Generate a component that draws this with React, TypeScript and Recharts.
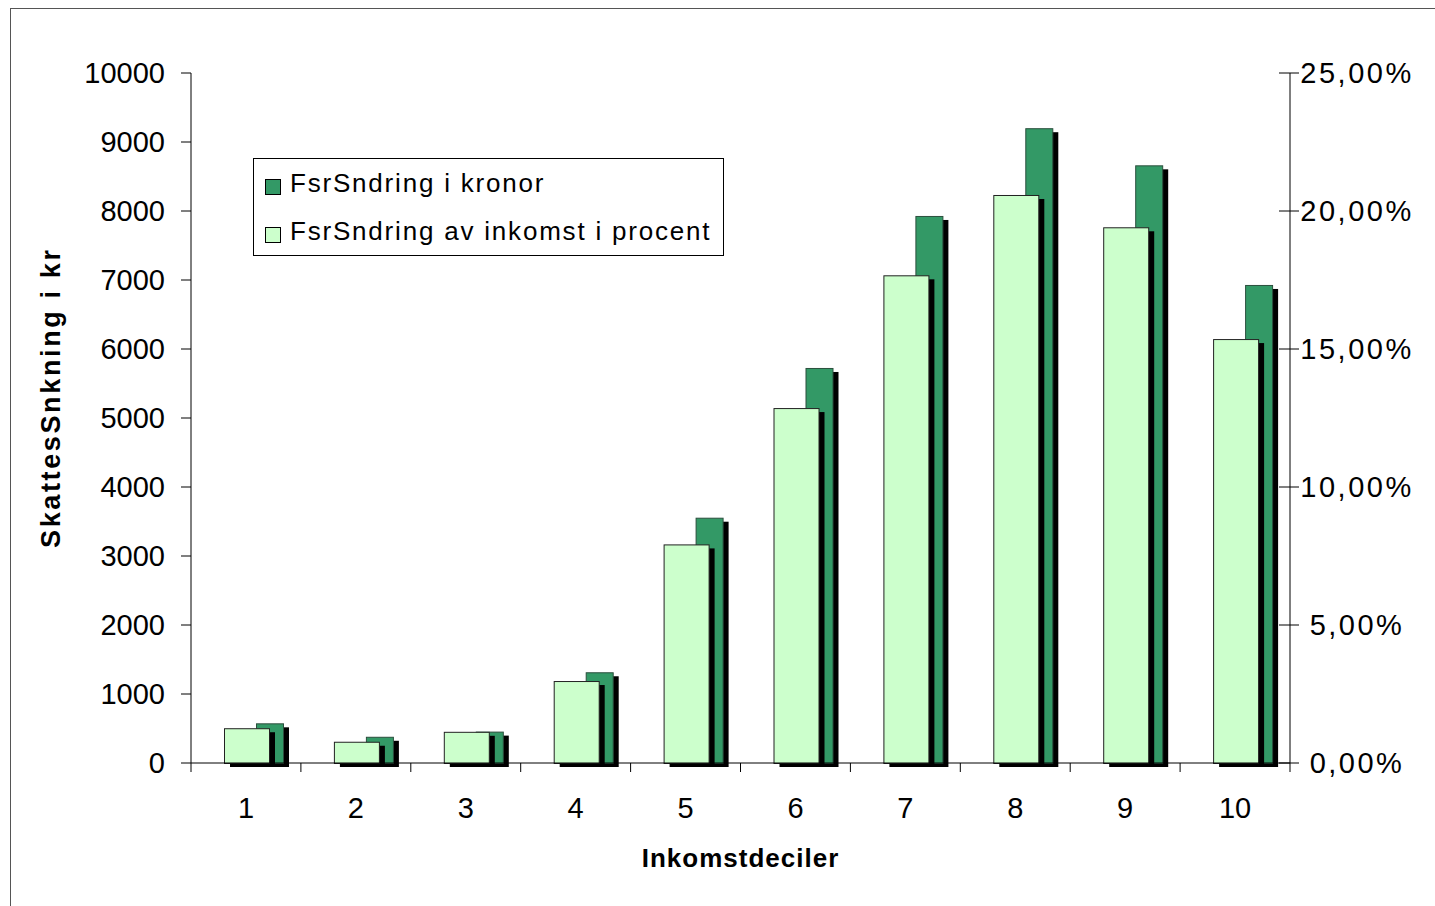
import { Bar, BarChart, Label, Legend, XAxis, YAxis } from "recharts";

const deciles = ["1", "2", "3", "4", "5", "6", "7", "8", "9", "10"];
const kronor = [575, 380, 455, 1315, 3555, 5725, 7928, 9200, 8662, 6928];
const procent = [1.26, 0.77, 1.13, 2.97, 7.92, 12.86, 17.67, 20.58, 19.41, 15.36];
const kronorTicks = [0, 1000, 2000, 3000, 4000, 5000, 6000, 7000, 8000, 9000, 10000];
const procentTicks = [0, 5, 10, 15, 20, 25];
const seriesNames = ["FsrSndring i kronor", "FsrSndring av inkomst i procent"];
const seriesColors = ["#339966", "#CCFFCC"];

const data = deciles.map((d, i) => ({ decil: d, kronor: kronor[i], procent: procent[i] }));

const FONT = "'Liberation Sans', Arial, sans-serif";
const SHADOW_DX = 6;
const SHADOW_DY = 4;

// excel style bars: each series gets half the band, we redraw them overlapping with a drop shadow
const KronorBar = (props: any) => {
  const { x, y, width, height } = props;
  if (height == null || isNaN(height)) return null;
  const c = x + width; // band centre (this bar owns the left half)
  const bx = c + 10;
  const bw = 27;
  return (
    <g>
      <rect x={bx + SHADOW_DX} y={y + SHADOW_DY} width={bw} height={height} fill="#000" />
      <rect x={bx + 0.5} y={y + 0.5} width={bw} height={height} fill={seriesColors[0]} stroke="#2b4f3d" strokeWidth={1} />
    </g>
  );
};

const ProcentBar = (props: any) => {
  const { x, y, height } = props;
  if (height == null || isNaN(height)) return null;
  const c = x; // band centre (this bar owns the right half)
  const bx = c - 22;
  const bw = 45;
  return (
    <g>
      <rect x={bx + SHADOW_DX} y={y + SHADOW_DY} width={bw} height={height} fill="#000" />
      <rect x={bx + 0.5} y={y + 0.5} width={bw} height={height} fill={seriesColors[1]} stroke="#222" strokeWidth={1} />
    </g>
  );
};

const KronorTick = ({ x, y, payload }: any) => (
  <text x={x} y={y} dy="0.355em" textAnchor="end" fontSize={29} fontFamily={FONT} fill="#000">
    {payload.value}
  </text>
);

const ProcentTick = ({ x, y, payload }: any) => (
  <g>
    <line x1={x - 78} x2={x - 58} y1={y} y2={y} stroke="#000" />
    <text x={x} y={y} dy="0.355em" textAnchor="middle" fontSize={29} letterSpacing={2.5} fontFamily={FONT} fill="#000">
      {payload.value.toFixed(2).replace(".", ",") + "%"}
    </text>
  </g>
);

const DecileTick = ({ x, y, payload, index }: any) => {
  const half = payload?.offset ?? 55;
  const axisY = y - 34;
  return (
    <g>
      {index === 0 && <line x1={x - half} x2={x - half} y1={axisY} y2={axisY + 9} stroke="#000" />}
      <line x1={x + half} x2={x + half} y1={axisY} y2={axisY + 9} stroke="#000" />
      <text x={x} y={y} dy="0.71em" textAnchor="middle" fontSize={29} fontFamily={FONT} fill="#000">
        {payload.value}
      </text>
    </g>
  );
};

// legend keeps the series order (recharts sorts its payload by name)
const LegendBox = () => (
  <div
    style={{
      position: "relative",
      width: 471,
      height: 98,
      boxSizing: "border-box",
      border: "1px solid #000",
      background: "#fff",
      fontFamily: FONT,
    }}
  >
    {seriesNames.map((name, i) => (
      <div key={name} style={{ position: "absolute", left: 11, top: 8 + i * 48, height: 32, display: "flex", alignItems: "flex-end" }}>
        <span
          style={{
            display: "inline-block",
            width: 14,
            height: 14,
            background: seriesColors[i],
            border: "1px solid #000",
            marginBottom: 4,
            marginRight: 9,
          }}
        />
        <span style={{ fontSize: 26, letterSpacing: 1.8, lineHeight: "32px", color: "#000", whiteSpace: "nowrap" }}>
          {name}
        </span>
      </div>
    ))}
  </div>
);

export default function App() {
  return (
    <div style={{ position: "relative", width: 1435, height: 906, overflow: "hidden", background: "#fff" }}>
      <style>{"body{margin:0;overflow:hidden}"}</style>
      <div
        style={{
          position: "absolute",
          left: 10,
          top: 8,
          width: 1600,
          height: 1100,
          borderLeft: "1px solid #555",
          borderTop: "1px solid #555",
        }}
      />
      <div style={{ position: "absolute", left: 0, top: 0 }}>
        <BarChart
          width={1435}
          height={906}
          data={data}
          margin={{ top: 73, right: 0, bottom: 0, left: 0 }}
          barCategoryGap={0}
          barGap={0}
        >
          <XAxis
            dataKey="decil"
            height={143}
            interval={0}
            tickSize={0}
            tickMargin={34}
            tickLine={false}
            axisLine={{ stroke: "#000" }}
            tick={DecileTick}
          >
            <Label
              content={(p: any) => {
                const vb = p.viewBox || { x: 191, y: 763, width: 1099 };
                return (
                  <text
                    x={vb.x + vb.width / 2}
                    y={vb.y + 104}
                    textAnchor="middle"
                    fontSize={26}
                    fontWeight="bold"
                    letterSpacing={1}
                    fontFamily={FONT}
                    fill="#000"
                  >
                    Inkomstdeciler
                  </text>
                );
              }}
            />
          </XAxis>
          <YAxis
            yAxisId="kr"
            width={191}
            domain={[0, 10000]}
            ticks={kronorTicks}
            interval={0}
            tickSize={10}
            tickMargin={16}
            axisLine={{ stroke: "#000" }}
            tickLine={{ stroke: "#000" }}
            tick={KronorTick}
          >
            <Label
              content={(p: any) => {
                const vb = p.viewBox || { x: 0, y: 73, height: 690 };
                const cx = vb.x + 60;
                const cy = vb.y + vb.height / 2 - 19;
                return (
                  <text
                    x={cx}
                    y={cy}
                    transform={`rotate(-90 ${cx} ${cy})`}
                    textAnchor="middle"
                    fontSize={27}
                    fontWeight="bold"
                    fontFamily={FONT}
                    textLength={298}
                    lengthAdjust="spacing"
                    fill="#000"
                  >
                    SkattesSnkning i kr
                  </text>
                );
              }}
            />
          </YAxis>
          <YAxis
            yAxisId="pct"
            orientation="right"
            width={145}
            domain={[0, 25]}
            ticks={procentTicks}
            interval={0}
            tickSize={9}
            tickMargin={58}
            tickLine={false}
            axisLine={{ stroke: "#000" }}
            tick={ProcentTick}
          />
          <Legend
            layout="vertical"
            align="center"
            verticalAlign="middle"
            wrapperStyle={{ left: 253, top: 158, width: 471, height: 98 }}
            content={LegendBox}
          />
          <Bar
            yAxisId="kr"
            dataKey="kronor"
            name={seriesNames[0]}
            fill={seriesColors[0]}
            shape={KronorBar}
            isAnimationActive={false}
          />
          <Bar
            yAxisId="pct"
            dataKey="procent"
            name={seriesNames[1]}
            fill={seriesColors[1]}
            shape={ProcentBar}
            isAnimationActive={false}
          />
        </BarChart>
      </div>
    </div>
  );
}
